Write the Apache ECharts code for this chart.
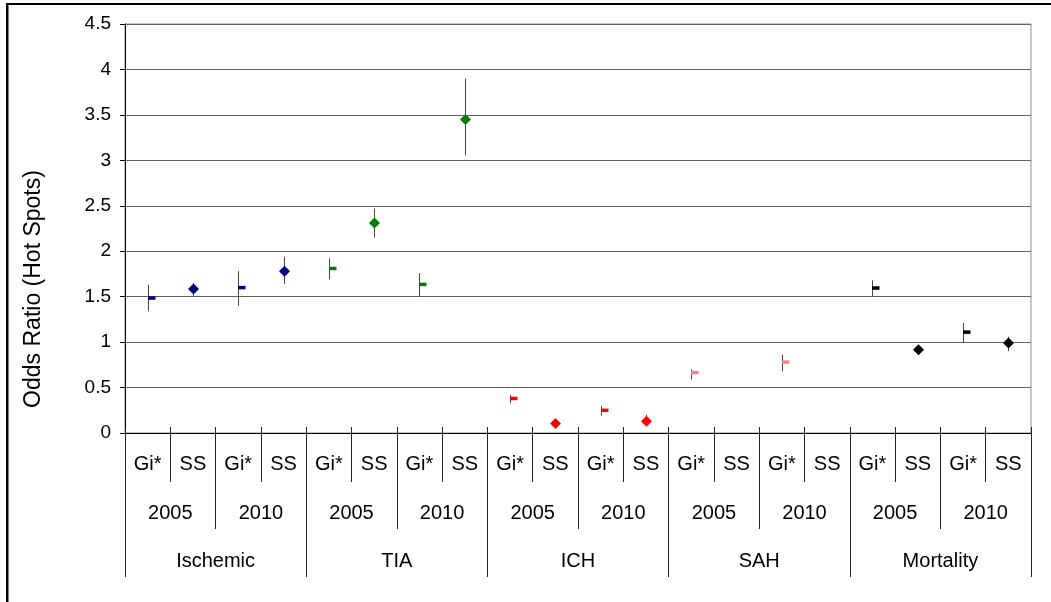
<!DOCTYPE html>
<html>
<head>
<meta charset="utf-8">
<title>Odds Ratio (Hot Spots)</title>
<script src="https://cdn.jsdelivr.net/npm/echarts@6/dist/echarts.min.js"></script>
<style>
  html, body { margin: 0; padding: 0; background: #fff; }
  #chart { width: 1051px; height: 602px; }
</style>
</head>
<body>
<div id="chart"></div>
<script>
// Outcome groups, study years and hot-spot methods (three-level category axis)
const outcomes = ['Ischemic', 'TIA', 'ICH', 'SAH', 'Mortality'];
const years = ['2005', '2010'];
const methods = ['Gi*', 'SS'];

// Colour of each outcome group
const outcomeColors = ['#000080', '#008000', '#FF0000', '#FF8080', '#000000'];

// Odds ratio and confidence limits, one entry per outcome/year/method (null = not reported)
const oddsRatio = [1.485, 1.585, 1.60, 1.78, 1.81, 2.31, 1.635, 3.45, 0.38, 0.105, 0.25, 0.13, 0.665, null, 0.78, null, 1.595, 0.915, 1.11, 0.99];
const ciLower   = [1.34, 1.50, 1.40, 1.64, 1.69, 2.15, 1.50, 3.055, 0.33, 0.08, 0.19, 0.09, 0.59, null, 0.68, null, 1.50, 0.88, 0.99, 0.90];
const ciUpper   = [1.63, 1.65, 1.78, 1.94, 1.92, 2.47, 1.76, 3.90, 0.42, 0.13, 0.30, 0.20, 0.70, null, 0.86, null, 1.68, 0.95, 1.21, 1.06];

// Y axis tick labels
const yTicks = ['0', '0.5', '1', '1.5', '2', '2.5', '3', '3.5', '4', '4.5'];

const FONT = '"Liberation Sans", Arial, Helvetica, sans-serif';

// Build the nested category keys
const leafCats = [], yearCats = [];
outcomes.forEach(o => years.forEach(y => {
  yearCats.push(o + '|' + y);
  methods.forEach(m => leafCats.push(o + '|' + y + '|' + m));
}));

const points = [];
leafCats.forEach((key, i) => {
  if (oddsRatio[i] == null) return;
  const methodIdx = i % methods.length;
  const outcomeIdx = Math.floor(i / (years.length * methods.length));
  points.push([i, oddsRatio[i], ciLower[i], ciUpper[i], methodIdx, outcomeIdx]);
});

function renderPoint(params, api) {
  const idx = api.value(0);
  const pt = api.coord([idx, api.value(1)]);
  const lo = api.coord([idx, api.value(2)]);
  const hi = api.coord([idx, api.value(3)]);
  const method = api.value(4);
  const color = outcomeColors[api.value(5)];
  const cx = Math.round(pt[0]) + 0.5;
  const children = [{
    type: 'line',
    shape: { x1: cx, y1: hi[1], x2: cx, y2: lo[1] },
    style: { stroke: '#474747', lineWidth: 1 }
  }];
  if (method === 0) {
    // dash marker to the right of the error bar
    children.push({
      type: 'rect',
      shape: { x: cx - 0.5, y: pt[1] - 1.75, width: 7.5, height: 3.5 },
      style: { fill: color }
    });
  } else {
    const r = 5.5;
    children.push({
      type: 'polygon',
      shape: { points: [[cx, pt[1] - r], [cx + r, pt[1]], [cx, pt[1] + r], [cx - r, pt[1]]] },
      style: { fill: color }
    });
  }
  return { type: 'group', children };
}

const labelBase = { interval: 0, fontSize: 20, color: '#000', fontFamily: FONT, verticalAlign: 'middle' };

const option = {
  animation: false,
  backgroundColor: '#fff',
  grid: {
    left: 125, right: 20, top: 24, bottom: 169,
    show: true, borderColor: '#8f8f8f', borderWidth: 1
  },
  xAxis: [
    {
      type: 'category', data: leafCats, position: 'bottom',
      axisLine: { show: true, lineStyle: { color: '#000', width: 1 } },
      axisTick: { show: true, interval: 0, length: 49, lineStyle: { color: '#222' } },
      axisLabel: Object.assign({}, labelBase, { margin: 31, formatter: v => v.split('|')[2] }),
      splitLine: { show: false }
    },
    {
      type: 'category', data: yearCats, position: 'bottom',
      axisLine: { show: false },
      axisTick: { show: true, interval: 0, length: 96, lineStyle: { color: '#222' } },
      axisLabel: Object.assign({}, labelBase, { margin: 80, formatter: v => v.split('|')[1] }),
      splitLine: { show: false }
    },
    {
      type: 'category', data: outcomes, position: 'bottom',
      axisLine: { show: false },
      axisTick: { show: true, interval: 0, length: 144, lineStyle: { color: '#222' } },
      axisLabel: Object.assign({}, labelBase, { margin: 128 }),
      splitLine: { show: false }
    },
    {
      type: 'category', data: leafCats, position: 'bottom',
      axisLine: { show: false },
      axisTick: { show: true, inside: true, interval: 0, length: 6, lineStyle: { color: '#222' } },
      axisLabel: { show: false },
      splitLine: { show: false }
    }
  ],
  yAxis: {
    type: 'value', min: 0, max: 4.5, interval: 0.5,
    axisLine: { show: true, lineStyle: { color: '#000', width: 1 } },
    axisTick: { show: true, length: 5, lineStyle: { color: '#000' } },
    axisLabel: {
      fontSize: 19, color: '#000', fontFamily: FONT, margin: 14,
      formatter: (v) => yTicks[Math.round(v / 0.5)]
    },
    splitLine: { show: true, lineStyle: { color: '#626262', width: 1 } }
  },
  series: [{
    type: 'custom',
    xAxisIndex: 0, yAxisIndex: 0,
    renderItem: renderPoint,
    data: points,
    z: 5
  }],
  graphic: [
    { type: 'rect', shape: { x: 6, y: 3, width: 1045, height: 2 }, style: { fill: '#000' }, silent: true },
    { type: 'rect', shape: { x: 6, y: 3, width: 2.5, height: 599 }, style: { fill: '#000' }, silent: true },
    {
      type: 'text', x: 34, y: 289, rotation: Math.PI / 2,
      style: { text: 'Odds Ratio (Hot Spots)', fontSize: 23, fontFamily: FONT, fill: '#000', align: 'center', verticalAlign: 'middle' }
    }
  ]
};

const chart = echarts.init(document.getElementById('chart'), null, { renderer: 'canvas' });
chart.setOption(option);
</script>
</body>
</html>
